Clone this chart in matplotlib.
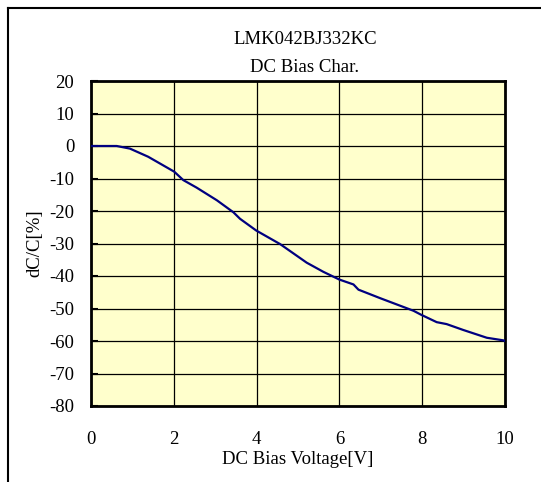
import matplotlib
matplotlib.use("Agg")
import matplotlib.pyplot as plt
from matplotlib.lines import Line2D

# DC bias curve
voltage = [0.0, 0.62, 0.94, 1.38, 2.01, 2.23, 2.55, 3.04, 3.44, 3.6, 3.99,
           4.57, 5.21, 5.61, 6.0, 6.34, 6.46, 6.98, 7.79, 7.97, 8.35, 8.59,
           8.99, 9.56, 9.96, 10.0]
dc_change = [0.0, 0.0, -0.8, -3.3, -7.9, -10.5, -12.8, -16.7, -20.4, -22.4, -26.0,
             -30.2, -35.9, -38.7, -41.1, -42.6, -44.2, -46.8, -50.7, -51.9, -54.2,
             -54.8, -56.6, -59.0, -59.8, -60.0]

x_ticks = [0, 2, 4, 6, 8, 10]
y_ticks = [20, 10, 0, -10, -20, -30, -40, -50, -60, -70, -80]

plt.rcParams["font.family"] = ["Liberation Serif", "DejaVu Serif"]
plt.rcParams["axes.unicode_minus"] = False

W, H = 541, 482
fig = plt.figure(figsize=(W / 100, H / 100), dpi=100)
ax = fig.add_axes([91 / W, 76 / H, 414 / W, 325 / H])
ax.set_facecolor("#ffffcc")

ax.plot(voltage, dc_change, color="#000080", linewidth=1.6, zorder=3)

ax.set_xlim(0, 10)
ax.set_ylim(-80, 20)
ax.set_xticks(x_ticks)
ax.set_yticks(y_ticks)
ax.grid(True, color="black", linewidth=0.9, zorder=1)
ax.set_axisbelow(True)
for sp in ax.spines.values():
    sp.set_linewidth(2)

ax.tick_params(axis="x", length=0, pad=18, labelsize=13.5)
ax.tick_params(axis="y", direction="in", length=5, width=1.5, pad=12, labelsize=13.5)

ax.set_xlabel("DC Bias Voltage[V]", fontsize=13.5, va="center")
ax.xaxis.set_label_coords(0.5, -0.166)
ax.set_ylabel("dC/C[%]", fontsize=13.5, va="center")
ax.yaxis.set_label_coords(-0.135, 0.50)

fig.text(305 / W, 1 - 40 / H, "LMK042BJ332KC", ha="center", va="center", fontsize=13.5)
fig.text(305 / W, 1 - 68 / H, "DC Bias Char.", ha="center", va="center", fontsize=13.5)

# outer frame (cropped at right and bottom)
fig.add_artist(Line2D([8 / W, 8 / W], [0, 1 - 8 / H], color="black", linewidth=1.5))
fig.add_artist(Line2D([8 / W, 1], [1 - 8 / H, 1 - 8 / H], color="black", linewidth=1.5))

fig.savefig("out.png", dpi=100)
